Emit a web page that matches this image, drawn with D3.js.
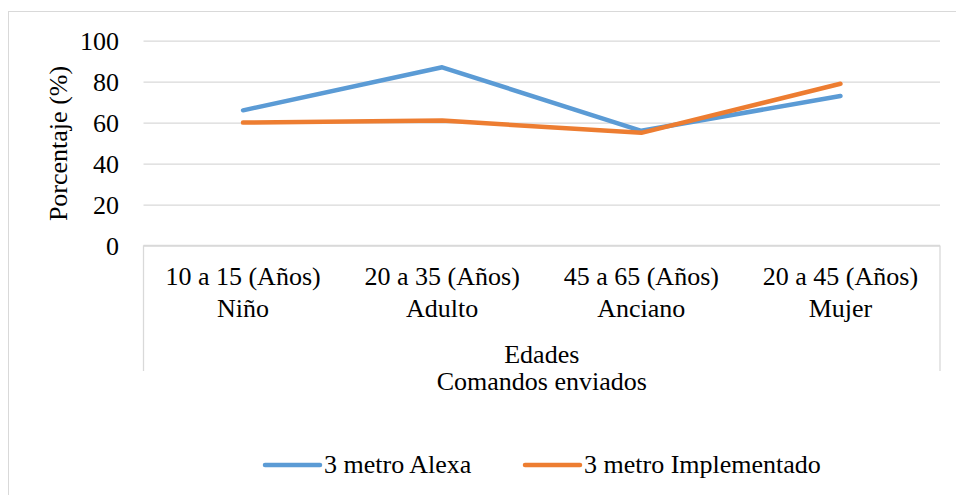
<!DOCTYPE html>
<html>
<head>
<meta charset="utf-8">
<script src="https://cdn.jsdelivr.net/npm/d3@7"></script>
<style>
html,body{margin:0;padding:0;background:#fff;}
svg{display:block;}
svg text{font-family:"Liberation Serif","Tinos","Times New Roman","DejaVu Serif",serif !important;}
</style>
</head>
<body>
<svg id="chart" width="956" height="495"></svg>
<script>
const categoriesLine1 = ["10 a 15 (Años)", "20 a 35 (Años)", "45 a 65 (Años)", "20 a 45 (Años)"];
const categoriesLine2 = ["Niño", "Adulto", "Anciano", "Mujer"];
const seriesNames = ["3 metro Alexa", "3 metro Implementado"];
const alexaValues = [66, 87, 56, 73];
const implementadoValues = [60, 61, 55, 79];
const yTicks = [0, 20, 40, 60, 80, 100];
const colors = ["#5B9BD5", "#ED7D31"];

const svg = d3.select("#chart");
const plot = {left: 143.5, right: 940, top: 40.7, bottom: 245.5};
const fontSize = 26;

// outer border
svg.append("rect").attr("x", 8.5).attr("y", 11.5).attr("width", 960).attr("height", 500)
  .attr("fill", "#fff").attr("stroke", "#D9D9D9").attr("stroke-width", 1);

const x = d3.scaleBand().domain(d3.range(categoriesLine1.length)).range([plot.left, plot.right]).padding(0);
const y = d3.scaleLinear().domain([0, 100]).range([plot.bottom, plot.top]);

// gridlines + tick labels
const yAxis = d3.axisLeft(y).tickValues(yTicks).tickSize(-(plot.right - plot.left)).tickPadding(24);
const gy = svg.append("g").attr("transform", `translate(${plot.left},0)`).call(yAxis);
gy.attr("font-family", null);
gy.select(".domain").remove();
gy.selectAll(".tick line").attr("stroke", "#D9D9D9").attr("stroke-width", 1.3);
gy.selectAll(".tick text").attr("font-size", fontSize).attr("fill", "#000")
  .attr("x", 119 - plot.left).attr("dy", "0.33em");

// axis box
const box = svg.append("g").attr("stroke", "#D9D9D9").attr("stroke-width", 1.3).attr("fill", "none");
box.append("line").attr("x1", plot.left).attr("x2", plot.right).attr("y1", plot.bottom).attr("y2", plot.bottom);
box.append("line").attr("x1", plot.left).attr("x2", plot.left).attr("y1", plot.bottom).attr("y2", 371);
box.append("line").attr("x1", plot.right).attr("x2", plot.right).attr("y1", plot.bottom).attr("y2", 371);

// category labels
const cat = svg.append("g").attr("font-size", fontSize).attr("text-anchor", "middle").attr("fill", "#000");
categoriesLine1.forEach((c, i) => {
  const cx = x(i) + x.bandwidth() / 2;
  cat.append("text").attr("x", cx).attr("y", 285).text(c);
  cat.append("text").attr("x", cx).attr("y", 317).text(categoriesLine2[i]);
});

const midX = (plot.left + plot.right) / 2;
svg.append("text").attr("x", midX).attr("y", 363).attr("text-anchor", "middle")
  .attr("font-size", fontSize).text("Edades");
svg.append("text").attr("x", midX).attr("y", 390).attr("text-anchor", "middle")
  .attr("font-size", fontSize).text("Comandos enviados");

// y axis title
svg.append("text").attr("transform", "translate(67,143.5) rotate(-90)").attr("text-anchor", "middle")
  .attr("font-size", fontSize).text("Porcentaje (%)");

// lines
const line = d3.line().x((d, i) => x(i) + x.bandwidth() / 2).y(d => y(d));
[alexaValues, implementadoValues].forEach((vals, k) => {
  svg.append("path").datum(vals).attr("d", line).attr("fill", "none")
    .attr("stroke", colors[k]).attr("stroke-width", 4.5)
    .attr("stroke-linecap", "round").attr("stroke-linejoin", "round");
});

// legend
const legendItems = [{x1: 265, x2: 320, tx: 324}, {x1: 525, x2: 580, tx: 584}];
legendItems.forEach((l, k) => {
  svg.append("line").attr("x1", l.x1).attr("x2", l.x2).attr("y1", 465).attr("y2", 465)
    .attr("stroke", colors[k]).attr("stroke-width", 4.5).attr("stroke-linecap", "round");
  svg.append("text").attr("x", l.tx).attr("y", 473).attr("font-size", fontSize).text(seriesNames[k]);
});
</script>
</body>
</html>
